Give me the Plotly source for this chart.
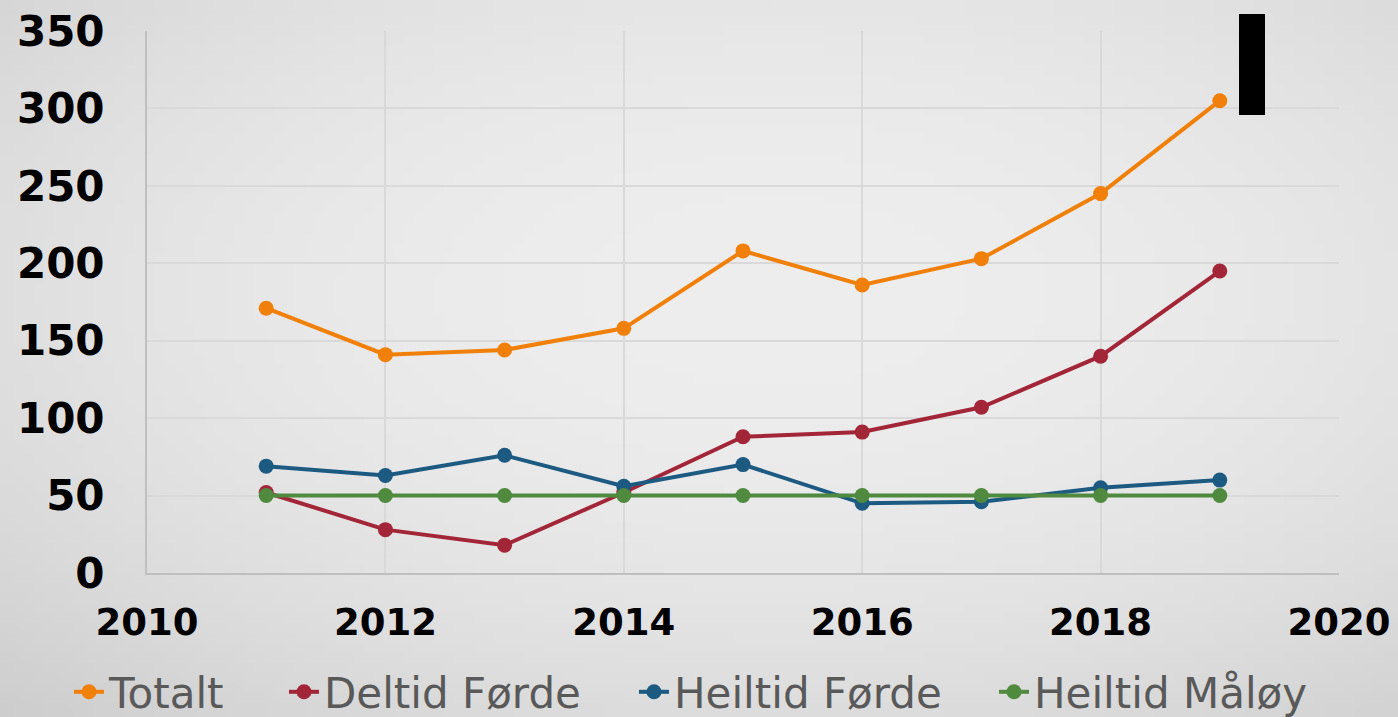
import base64, struct, zlib
import numpy as np
import plotly.graph_objects as go

years = [2011, 2012, 2013, 2014, 2015, 2016, 2017, 2018, 2019]
totalt = [171, 141, 144, 158, 208, 186, 203, 245, 305]
deltid_forde = [52, 28, 18, 52, 88, 91, 107, 140, 195]
heiltid_forde = [69, 63, 76, 56, 70, 45, 46, 55, 60]
heiltid_maloy = [50, 50, 50, 50, 50, 50, 50, 50, 50]

series = [
    ("Totalt", totalt, "#F0800A"),
    ("Deltid Førde", deltid_forde, "#A32638"),
    ("Heiltid Førde", heiltid_forde, "#1C5A82"),
    ("Heiltid Måløy", heiltid_maloy, "#4F8A3F"),
]
legend_text_x = [110, 325, 675, 1035]


def gradient_png(w, h):
    yy, xx = np.mgrid[0:h, 0:w]
    dx = (xx - w * 0.55) / w
    dy = (yy - h * 0.4) / h
    d2 = dx ** 2 + dy ** 2
    v = np.clip(238 - 50 * d2, 0, 255).astype(np.uint8)
    raw = b"".join(b"\x00" + v[r].tobytes() for r in range(h))

    def chunk(t, data):
        c = struct.pack(">I", len(data)) + t + data
        return c + struct.pack(">I", zlib.crc32(t + data) & 0xFFFFFFFF)

    png = b"\x89PNG\r\n\x1a\n"
    png += chunk(b"IHDR", struct.pack(">IIBBBBB", w, h, 8, 0, 0, 0, 0))
    png += chunk(b"IDAT", zlib.compress(raw, 9))
    png += chunk(b"IEND", b"")
    return "data:image/png;base64," + base64.b64encode(png).decode()


W, H = 1398, 717
ml, mr, mt, mb = 147, 59, 31, 144
pw = W - ml - mr
ph = H - mt - mb

fig = go.Figure()
legends = {}
for i, (name, vals, color) in enumerate(series):
    key = "legend" if i == 0 else f"legend{i + 1}"
    fig.add_trace(go.Scatter(
        x=years, y=vals, name=name, mode="lines+markers",
        line=dict(color=color, width=4),
        marker=dict(color=color, size=15),
        legend=key,
    ))
    legends[key] = dict(
        orientation="h", xanchor="left", yanchor="middle",
        x=(legend_text_x[i] - 41 - ml) / pw, y=(573 - 692) / ph,
        font=dict(family="DejaVu Sans", size=42, color="#595959"),
        bgcolor="rgba(0,0,0,0)", itemwidth=30,
    )

fig.update_layout(
    width=W, height=H,
    margin=dict(l=ml, r=mr, t=mt, b=mb, autoexpand=False),
    paper_bgcolor="#e6e6e6",
    plot_bgcolor="rgba(0,0,0,0)",
    images=[dict(source=gradient_png(140, 72), xref="paper", yref="paper",
                 x=-ml / pw, y=1 + mt / ph,
                 sizex=W / pw, sizey=H / ph,
                 sizing="stretch", layer="below", xanchor="left", yanchor="top")],
    showlegend=True,
    xaxis=dict(range=[2010, 2020], tickvals=[2010, 2012, 2014, 2016, 2018, 2020],
               showgrid=True, gridcolor="#d9d9d9", gridwidth=2,
               showline=True, linecolor="#bfbfbf", linewidth=2, mirror=False,
               zeroline=False, ticks="outside", ticklen=16, tickcolor="rgba(0,0,0,0)",
               tickfont=dict(family="DejaVu Sans", size=37, color="#000000", weight="bold")),
    yaxis=dict(range=[0, 350], tickvals=[0, 50, 100, 150, 200, 250, 300, 350],
               showgrid=True, gridcolor="#d9d9d9", gridwidth=2,
               showline=True, linecolor="#bfbfbf", linewidth=2,
               zeroline=False, ticks="outside", ticklen=32, tickcolor="rgba(0,0,0,0)",
               tickfont=dict(family="DejaVu Sans", size=42, color="#000000", weight="bold")),
    shapes=[dict(type="rect", xref="paper", yref="paper",
                 x0=(1239 - ml) / pw, x1=(1265 - ml) / pw,
                 y0=(573 - 115) / ph, y1=(573 - 14) / ph,
                 fillcolor="#000000", line=dict(width=0), layer="above")],
    **legends,
)

fig.write_html("out.html", config={"displayModeBar": False},
               post_script="document.body.style.margin='0';document.body.style.overflow='hidden';")
